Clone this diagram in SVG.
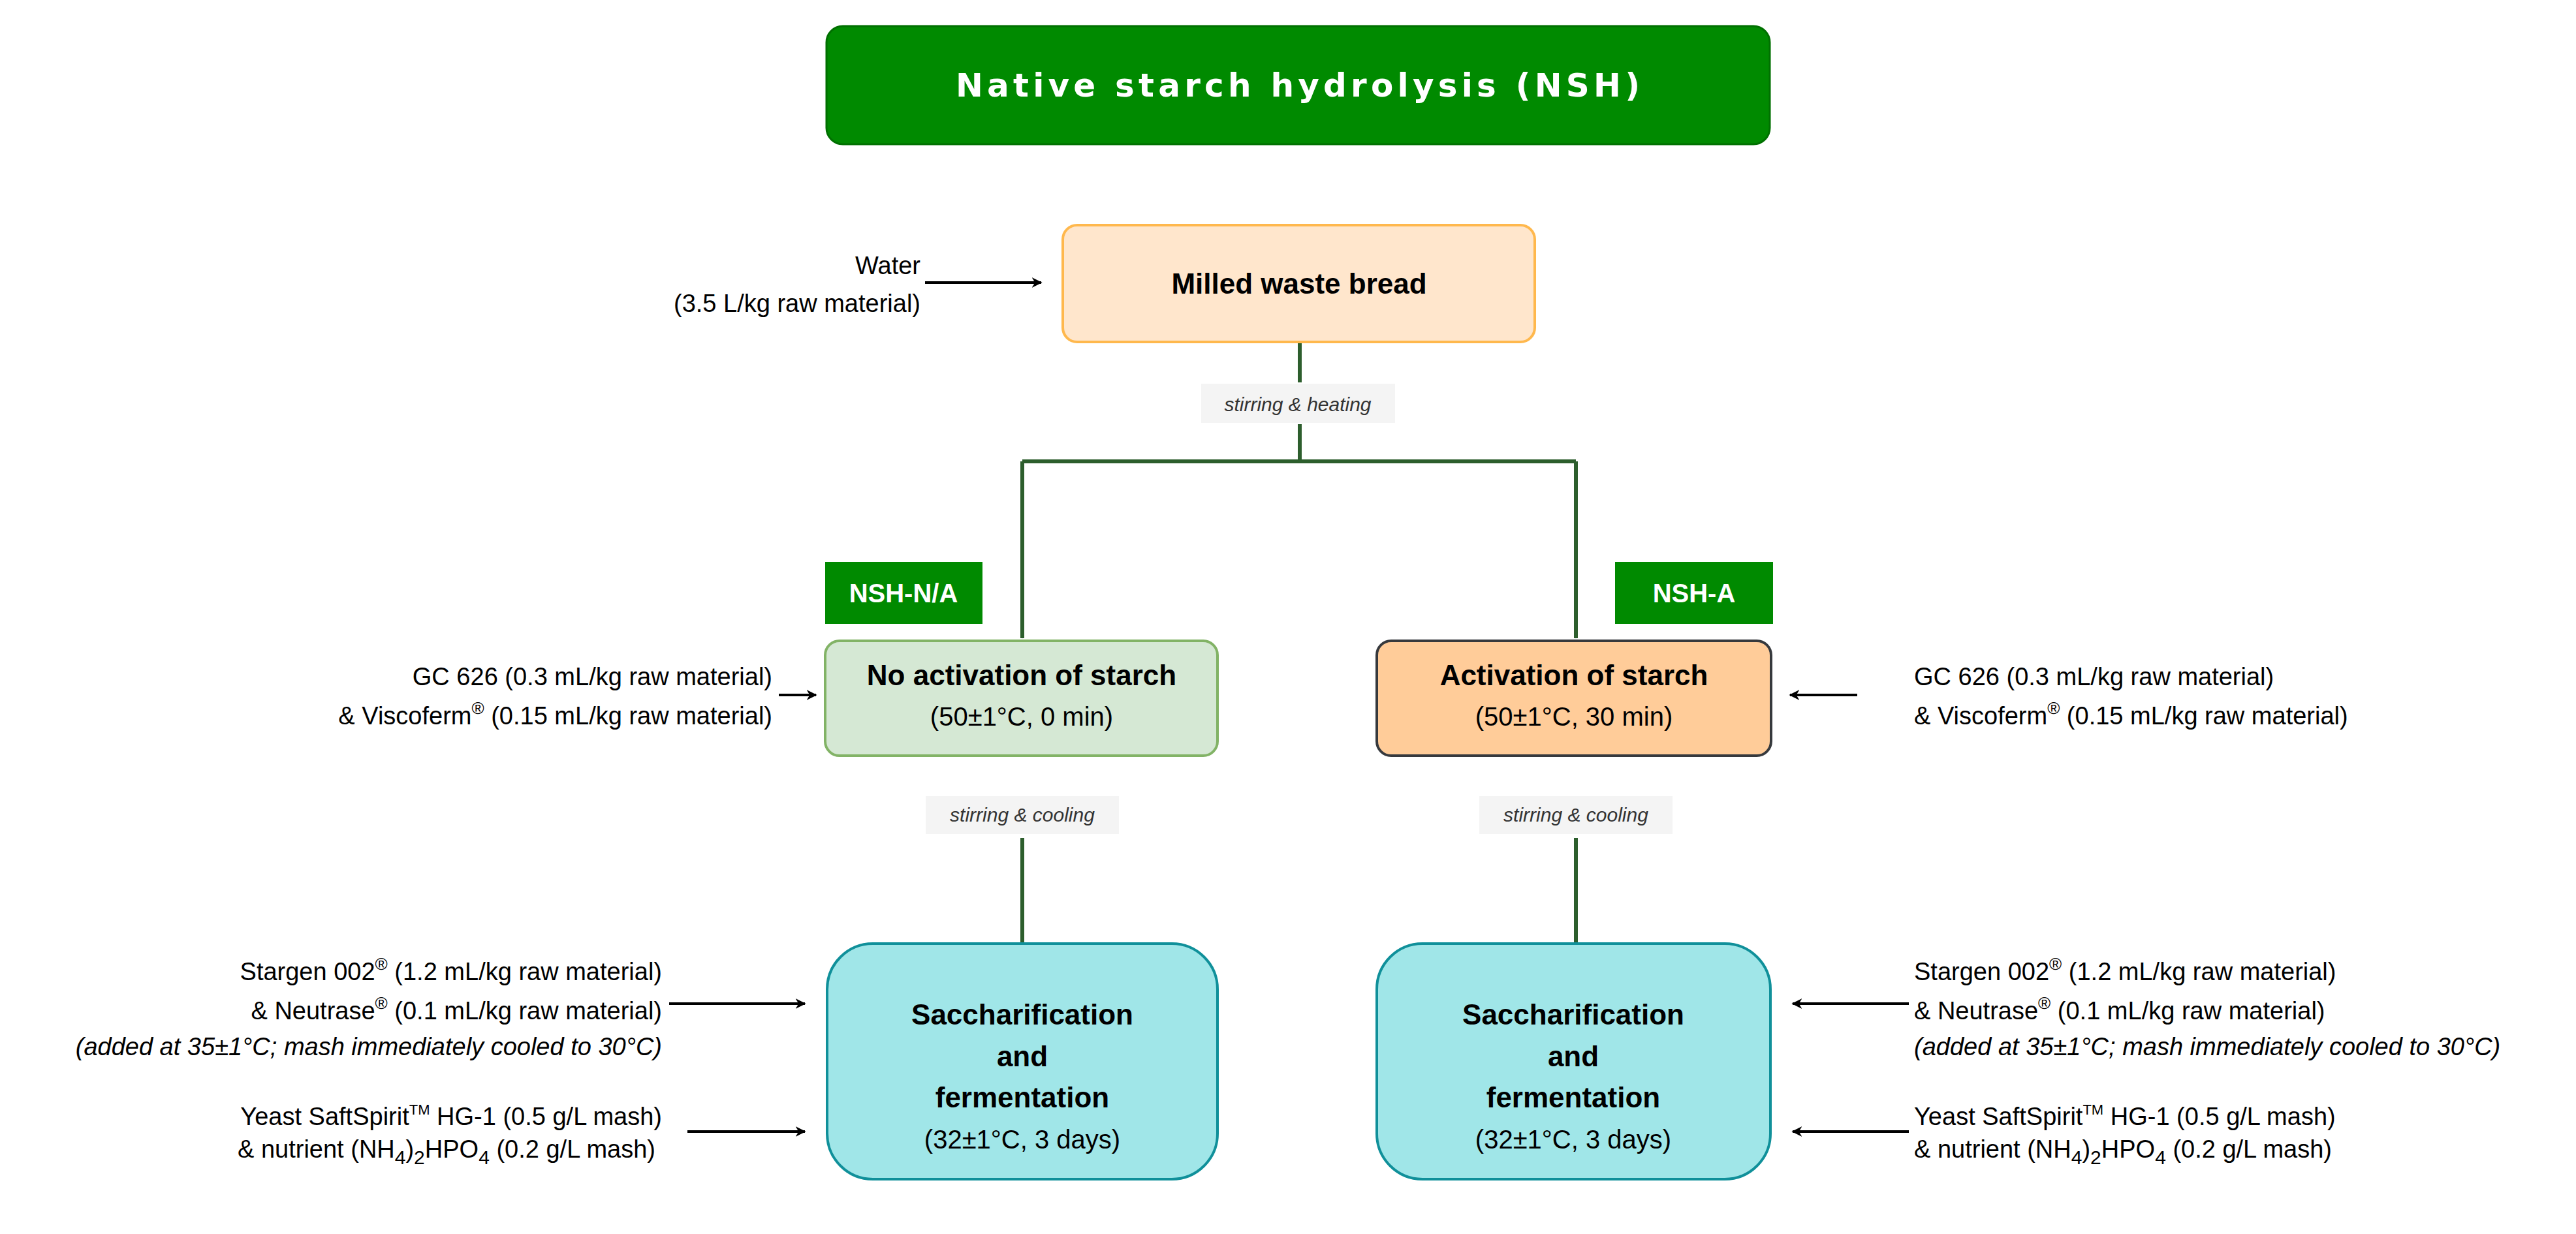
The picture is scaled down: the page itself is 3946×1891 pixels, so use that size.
<svg xmlns="http://www.w3.org/2000/svg" width="3946" height="1891" viewBox="0 0 3946 1891">
<style>
.t{font-family:"Liberation Sans",Arial,sans-serif;font-size:38px;fill:#000}
.b{font-family:"Liberation Sans",Arial,sans-serif;font-size:44px;font-weight:bold;fill:#000}
.r{font-family:"Liberation Sans",Arial,sans-serif;font-size:40px;fill:#000}
.lab{font-family:"Liberation Sans",Arial,sans-serif;font-size:30px;font-style:italic;fill:#333}
.tag{font-family:"Liberation Sans",Arial,sans-serif;font-size:40px;font-weight:bold;fill:#fff}
.g{stroke:#2d5e2d;stroke-width:6;fill:none}
.k{stroke:#000;stroke-width:4;fill:none}
</style>
<defs>
<marker id="ga" viewBox="0 0 10 10" refX="9" refY="5" markerWidth="5" markerHeight="7" markerUnits="userSpaceOnUse" orient="auto"><path d="M0,0 L10,5 L0,10 L3,5 z" fill="#2d5e2d"/></marker>
<marker id="ka" viewBox="0 0 10 10" refX="9" refY="5" markerWidth="4" markerHeight="5" orient="auto"><path d="M0,0 L10,5 L0,10 L3,5 z" fill="#000"/></marker>
</defs>
<rect width="3946" height="1891" fill="#fff"/>
<g id="title"><rect x="1266" y="40" width="1445" height="181" rx="25" fill="#008a00" stroke="#007000" stroke-width="3"/>
<text x="1988" y="148" text-anchor="middle" font-family="DejaVu Sans,sans-serif" font-weight="bold" font-size="50" fill="#fff" textLength="1048">Native starch hydrolysis (NSH)</text></g>
<g id="connectors">
<path class="g" d="M1991,524 V586 M1991,650 V707"/>
<path class="g" d="M1566,707 H2414" stroke-width="9"/>
<path class="g" d="M1566,707 V978" marker-end="url(#ga)"/>
<path class="g" d="M2414,707 V978" marker-end="url(#ga)"/>
<path class="g" d="M1566,1284 V1444" marker-end="url(#ga)"/>
<path class="g" d="M2414,1284 V1444" marker-end="url(#ga)"/>
<rect x="1840" y="588" width="297" height="60" fill="#f4f4f4"/>
<text class="lab" x="1988" y="630" text-anchor="middle">stirring &amp; heating</text>
<rect x="1418" y="1220" width="296" height="58" fill="#f4f4f4"/>
<text class="lab" x="1566" y="1259" text-anchor="middle">stirring &amp; cooling</text>
<rect x="2266" y="1220" width="296" height="58" fill="#f4f4f4"/>
<text class="lab" x="2414" y="1259" text-anchor="middle">stirring &amp; cooling</text>
<path class="k" d="M1417,433 H1595" marker-end="url(#ka)"/>
<path class="k" d="M1193,1065 H1250" marker-end="url(#ka)"/>
<path class="k" d="M2845,1065 H2742" marker-end="url(#ka)"/>
<path class="k" d="M1025,1538 H1233" marker-end="url(#ka)"/>
<path class="k" d="M1053,1734 H1233" marker-end="url(#ka)"/>
<path class="k" d="M2924,1538 H2746" marker-end="url(#ka)"/>
<path class="k" d="M2924,1734 H2746" marker-end="url(#ka)"/>
</g>
<g id="water"><text class="t" x="1410" y="420" text-anchor="end">Water</text><text class="t" x="1410" y="478" text-anchor="end">(3.5 L/kg raw material)</text></g>
<g id="bread"><rect x="1628" y="345" width="723" height="179" rx="22" fill="#ffe6cc" stroke="#ffb84d" stroke-width="4"/>
<text class="b" x="1990" y="450" text-anchor="middle">Milled waste bread</text></g>
<g id="tagNA"><rect x="1264" y="861" width="241" height="95" fill="#008a00"/><text class="tag" x="1384" y="923" text-anchor="middle">NSH-N/A</text></g>
<g id="tagA"><rect x="2474" y="861" width="242" height="95" fill="#008a00"/><text class="tag" x="2595" y="923" text-anchor="middle">NSH-A</text></g>
<g id="noact"><rect x="1264" y="982" width="601" height="176" rx="22" fill="#d5e8d4" stroke="#82b366" stroke-width="4"/>
<text class="b" x="1565" y="1050" text-anchor="middle">No activation of starch</text><text class="r" x="1565" y="1112" text-anchor="middle">(50±1°C, 0 min)</text></g>
<g id="act"><rect x="2109" y="982" width="604" height="176" rx="22" fill="#ffcc99" stroke="#36393d" stroke-width="4"/>
<text class="b" x="2411" y="1050" text-anchor="middle">Activation of starch</text><text class="r" x="2411" y="1112" text-anchor="middle">(50±1°C, 30 min)</text></g>
<g id="enzL"><text class="t" x="1183" y="1050" text-anchor="end">GC 626 (0.3 mL/kg raw material)</text><text class="t" x="1183" y="1110" text-anchor="end">&amp; Viscoferm<tspan font-size="26" dy="-16">®</tspan><tspan dy="16"> (0.15 mL/kg raw material)</tspan></text></g>
<g id="enzR"><text class="t" x="2932" y="1050">GC 626 (0.3 mL/kg raw material)</text><text class="t" x="2932" y="1110">&amp; Viscoferm<tspan font-size="26" dy="-16">®</tspan><tspan dy="16"> (0.15 mL/kg raw material)</tspan></text></g>
<g id="sacL"><rect x="1267" y="1446" width="598" height="361" rx="70" fill="#a0e6e8" stroke="#10909a" stroke-width="4"/>
<text class="b" x="1566" y="1570" text-anchor="middle">Saccharification</text><text class="b" x="1566" y="1634" text-anchor="middle">and</text><text class="b" x="1566" y="1697" text-anchor="middle">fermentation</text><text class="r" x="1566" y="1760" text-anchor="middle">(32±1°C, 3 days)</text></g>
<g id="sacR"><rect x="2109" y="1446" width="603" height="361" rx="70" fill="#a0e6e8" stroke="#10909a" stroke-width="4"/>
<text class="b" x="2410" y="1570" text-anchor="middle">Saccharification</text><text class="b" x="2410" y="1634" text-anchor="middle">and</text><text class="b" x="2410" y="1697" text-anchor="middle">fermentation</text><text class="r" x="2410" y="1760" text-anchor="middle">(32±1°C, 3 days)</text></g>
<g id="addL">
<text class="t" x="1014" y="1502" text-anchor="end">Stargen 002<tspan font-size="26" dy="-16">®</tspan><tspan dy="16"> (1.2 mL/kg raw material)</tspan></text>
<text class="t" x="1014" y="1562" text-anchor="end">&amp; Neutrase<tspan font-size="26" dy="-16">®</tspan><tspan dy="16"> (0.1 mL/kg raw material)</tspan></text>
<text class="t" x="1014" y="1617" text-anchor="end" font-style="italic">(added at 35±1°C; mash immediately cooled to 30°C)</text>
<text class="t" x="1014" y="1724" text-anchor="end">Yeast SaftSpirit<tspan font-size="22" dy="-16">TM</tspan><tspan dy="16"> HG-1 (0.5 g/L mash)</tspan></text>
<text class="t" x="1004" y="1774" text-anchor="end">&amp; nutrient (NH<tspan font-size="30" dy="10">4</tspan><tspan dy="-10">)</tspan><tspan font-size="30" dy="10">2</tspan><tspan dy="-10">HPO</tspan><tspan font-size="30" dy="10">4</tspan><tspan dy="-10"> (0.2 g/L mash)</tspan></text>
</g>
<g id="addR">
<text class="t" x="2932" y="1502">Stargen 002<tspan font-size="26" dy="-16">®</tspan><tspan dy="16"> (1.2 mL/kg raw material)</tspan></text>
<text class="t" x="2932" y="1562">&amp; Neutrase<tspan font-size="26" dy="-16">®</tspan><tspan dy="16"> (0.1 mL/kg raw material)</tspan></text>
<text class="t" x="2932" y="1617" font-style="italic">(added at 35±1°C; mash immediately cooled to 30°C)</text>
<text class="t" x="2932" y="1724">Yeast SaftSpirit<tspan font-size="22" dy="-16">TM</tspan><tspan dy="16"> HG-1 (0.5 g/L mash)</tspan></text>
<text class="t" x="2932" y="1774">&amp; nutrient (NH<tspan font-size="30" dy="10">4</tspan><tspan dy="-10">)</tspan><tspan font-size="30" dy="10">2</tspan><tspan dy="-10">HPO</tspan><tspan font-size="30" dy="10">4</tspan><tspan dy="-10"> (0.2 g/L mash)</tspan></text>
</g>
</svg>
